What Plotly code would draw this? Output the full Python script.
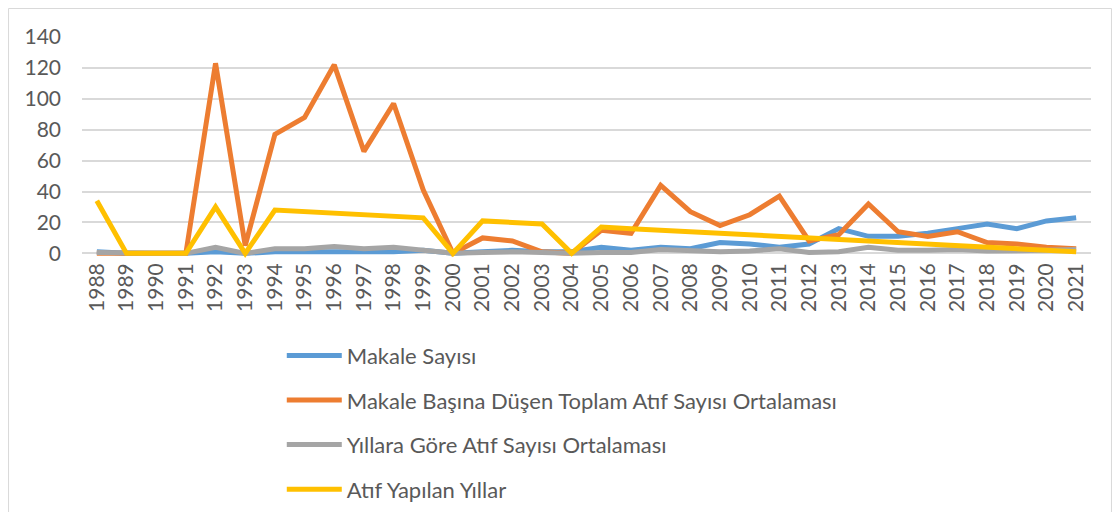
import plotly.graph_objects as go

years = [str(y) for y in range(1988, 2022)]

makale_sayisi = [1, 0, 0, 0, 1, 0, 1, 1, 1, 1, 1, 2, 0, 1, 2, 1, 1, 4, 2, 4,
                 3, 7, 6, 4, 6, 16, 11, 11, 13, 16, 19, 16, 21, 23]
toplam_atif_ort = [0, 0, 0, 0, 123, 5, 77, 88, 122, 66, 97, 41, 0, 10, 8, 1, 0, 15, 13, 44,
                   27, 18, 25, 37, 8, 12, 32, 14, 11, 14, 7, 6, 4, 3]
yillara_gore_ort = [0.5, 0, 0, 0, 4, 0, 3, 3, 4.5, 3, 4, 2, 0, 0.5, 1, 0.5, 0, 0.5, 0.5, 2.5,
                    1.5, 1, 1.5, 3, 0.5, 1, 4, 2, 2, 2.5, 1.5, 1.5, 2, 2.5]
atif_yapilan_yillar = [34, 0, 0, 0, 30, 0, 28, 27, 26, 25, 24, 23, 0, 21, 20, 19, 0, 17, 16, 15,
                       14, 13, 12, 11, 10, 9, 8, 7, 6, 5, 4, 3, 2, 1]

series_names = ["Makale Sayısı",
                "Makale Başına Düşen Toplam Atıf Sayısı Ortalaması",
                "Yıllara Göre Atıf Sayısı Ortalaması",
                "Atıf Yapılan Yıllar"]
series_values = [makale_sayisi, toplam_atif_ort, yillara_gore_ort, atif_yapilan_yillar]
colors = ["#5B9BD5", "#ED7D31", "#A5A5A5", "#FFC000"]
y_ticks = [0, 20, 40, 60, 80, 100, 120, 140]

fig = go.Figure()
for i, (name, vals, col) in enumerate(zip(series_names, series_values, colors)):
    fig.add_trace(go.Scatter(
        x=years, y=vals, name=name, mode="lines",
        line=dict(color=col, width=5),
        legendgroup=f"g{i}",
    ))

FONT = "Lato, 'Open Sans', sans-serif"
fig.update_layout(
    width=1104, height=504,
    margin=dict(l=74, r=21, t=29, b=254),
    paper_bgcolor="white", plot_bgcolor="white",
    font=dict(family=FONT, size=21, color="#595959"),
    showlegend=True,
    legend=dict(
        orientation="v", xref="paper", x=0.198, xanchor="left",
        yref="container", y=0.352, yanchor="top",
        font=dict(family=FONT, size=22, color="#595959"),
        tracegroupgap=13, itemwidth=55, bgcolor="rgba(0,0,0,0)",
    ),
    xaxis=dict(
        type="category", range=[-0.5, 33.5],
        tickangle=-90, showgrid=False, showline=False, zeroline=False,
        ticks="", tickfont=dict(size=21, color="#595959"),
    ),
    yaxis=dict(
        range=[-3, 140], tickvals=y_ticks,
        showgrid=True, gridcolor="#D9D9D9", gridwidth=1.5,
        zeroline=False, showline=False, ticks="",
        ticklabelstandoff=20,
        tickfont=dict(size=21, color="#595959"),
    ),
    shapes=[dict(type="rect", xref="paper", yref="paper",
                 x0=-0.0728, x1=1.0203, y0=1.129, y1=-1.25,
                 line=dict(color="#D9D9D9", width=1), layer="below")],
)

fig.write_html("out.html")
